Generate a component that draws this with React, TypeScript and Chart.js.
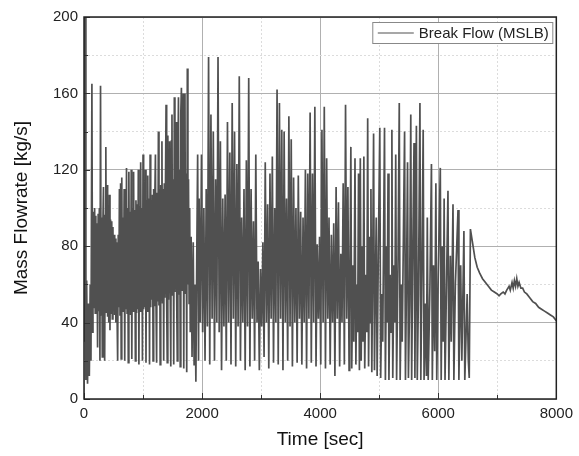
import React, { useEffect, useRef } from 'react';
import { Chart, registerables } from 'chart.js';

Chart.register(...registerables);

// ---------------- DATA ----------------
const seriesLabel = 'Break Flow (MSLB)';
const xTitle = 'Time [sec]';
const yTitle = 'Mass Flowrate [kg/s]';

const xMin = 0;
const xMax = 8000;
const xMajorStep = 2000;
const xMinorStep = 1000;
const yMin = 0;
const yMax = 200;
const yMajorStep = 40;
const yMinorStep = 20;

// start of the transient: [time, flow]
const initialSegment: [number, number][] = [
  [0, 62], [6, 200], [14, 30], [22, 200], [32, 10], [45, 62], [60, 8], [75, 50],
  [90, 12], [105, 60], [118, 20], [134, 165], [145, 35], [152, 95],
];

// dense oscillation band, sampled every 10 s from 160 s
const denseStart = 160;
const denseStep = 10;
const denseValues: number[] = [
  98, 48, 100, 45, 96, 50, 92, 27, 97, 46,
  100, 20, 164, 44, 95, 22, 92, 111, 47, 20,
  96, 132, 45, 112, 43, 97, 40, 107, 36, 94,
  45, 93, 42, 90, 46, 86, 44, 84, 40, 82,
  45, 20, 86, 48, 110, 44, 113, 21, 116, 46,
  95, 48, 110, 20, 98, 47, 121, 45, 100, 19,
  119, 48, 98, 44, 120, 21, 100, 46, 119, 49,
  99, 20, 104, 45, 102, 47, 120, 18, 101, 46,
  124, 50, 100, 20, 128, 47, 103, 48, 120, 19,
  104, 46, 117, 50, 105, 18, 128, 48, 104, 52,
  107, 20, 110, 49, 106, 128, 50, 19, 108, 51,
  140, 49, 110, 18, 112, 52, 135, 50, 110, 20,
  113, 53, 111, 154, 51, 19, 138, 52, 114, 135,
  55, 17, 135, 149, 54, 115, 18, 158, 56, 118,
  145, 53, 20, 116, 158, 55, 120, 17, 150, 163,
  57, 119, 160, 16, 121, 160, 55, 118, 14, 173,
  60, 115, 50,
];

// short drop around 1800-1950 s
const transitionSegment: [number, number][] = [
  [1790, 100], [1800, 35], [1815, 85], [1830, 22], [1850, 82], [1865, 18],
  [1880, 60], [1895, 9], [1910, 75], [1925, 128], [1940, 20],
];

// large-amplitude oscillation, sampled every 20 s from 1950 s
const midStart = 1950;
const midStep = 20;
const midValues: number[] = [
  105, 40, 128, 35, 100, 20, 110, 38, 179, 18,
  149, 42, 140, 20, 115, 40, 179, 35, 135, 15,
  105, 38, 107, 20, 145, 40, 129, 18, 155, 42,
  140, 17, 123, 38, 169, 20, 95, 40, 110, 15,
  125, 38, 168, 17, 110, 42, 93, 20, 128, 40,
  72, 15, 68, 38, 82, 22, 124, 40, 102, 16,
  118, 42, 127, 19, 100, 40, 162, 18, 155, 42,
  141, 15, 140, 40, 105, 20, 148, 38, 136, 17,
  116, 40, 100, 19, 117, 42, 98, 18, 95, 40,
  120, 16, 118, 42, 150, 19, 118, 40, 153, 17,
  81, 42, 85, 18, 141, 40, 153, 16, 126, 42,
  95, 18, 86, 40, 92, 12, 111, 42, 103, 17,
  76, 40, 113, 18, 154, 42, 111, 15,
];

// distinct spikes 4500-6550 s
const lateSegment: [number, number][] = [
  [4500, 40], [4520, 132], [4535, 16], [4555, 70], [4570, 30], [4590, 126], [4605, 18],
  [4620, 60], [4635, 35], [4650, 118], [4665, 15], [4680, 126], [4695, 20], [4710, 80],
  [4725, 30], [4740, 127], [4755, 16], [4775, 65], [4790, 35], [4805, 147], [4820, 17],
  [4840, 85], [4850, 40], [4860, 110], [4875, 14], [4890, 70], [4905, 139], [4920, 15],
  [4935, 60], [4950, 95], [4965, 12], [4985, 75], [5010, 142], [5025, 11], [5045, 55],
  [5060, 30], [5090, 142], [5105, 10], [5125, 80], [5135, 40], [5150, 118], [5165, 10],
  [5185, 65], [5200, 35], [5215, 141], [5230, 11], [5250, 70], [5265, 40], [5280, 128],
  [5295, 10], [5320, 75], [5340, 155], [5355, 10], [5375, 60], [5390, 30], [5410, 85],
  [5430, 140], [5445, 10], [5465, 70], [5480, 124], [5495, 11], [5515, 50], [5535, 149],
  [5550, 10], [5570, 80], [5590, 134], [5605, 11], [5630, 143], [5645, 10], [5665, 55],
  [5690, 155], [5705, 10], [5725, 70], [5745, 141], [5760, 10], [5780, 50], [5800, 12],
  [5815, 95], [5830, 10], [5860, 60], [5885, 123], [5900, 10], [5920, 70], [5940, 25],
  [5960, 113], [5975, 10], [6000, 65], [6035, 121], [6050, 10], [6070, 80], [6085, 30],
  [6100, 105], [6115, 10], [6140, 60], [6165, 109], [6180, 10], [6205, 75], [6220, 30],
  [6250, 102], [6265, 10], [6290, 60], [6335, 99], [6350, 10], [6380, 70], [6400, 20],
  [6435, 88], [6450, 10], [6490, 55], [6510, 20], [6525, 11], [6545, 89],
];

// smooth decay after 6550 s
const tailSegment: [number, number][] = [
  [6580, 82], [6620, 74], [6660, 69], [6700, 66], [6750, 63], [6800, 61], [6850, 59],
  [6900, 57], [6950, 56], [7000, 55], [7030, 54], [7060, 55], [7100, 56], [7130, 55],
  [7160, 57], [7200, 59], [7220, 57], [7250, 61], [7270, 58], [7290, 62], [7310, 59],
  [7330, 63], [7350, 59], [7370, 61], [7400, 58], [7430, 58], [7460, 56], [7500, 55],
  [7550, 53], [7600, 51], [7650, 50], [7700, 48], [7750, 47], [7800, 46], [7850, 45],
  [7900, 44], [7950, 43], [8000, 41],
];

// ---------------- build the series ----------------
const pairsToPoints = (arr: [number, number][]) => arr.map(([x, y]) => ({ x, y }));
const sampledToPoints = (start: number, step: number, vals: number[]) =>
  vals.map((y, i) => ({ x: start + i * step, y }));

const points = [
  ...pairsToPoints(initialSegment),
  ...sampledToPoints(denseStart, denseStep, denseValues),
  ...pairsToPoints(transitionSegment),
  ...sampledToPoints(midStart, midStep, midValues),
  ...pairsToPoints(lateSegment),
  ...pairsToPoints(tailSegment),
];

const FONT = "'Liberation Sans', Arial, sans-serif";
const LINE_COLOR = '#505050';

const decorPlugin = {
  id: 'decor',
  afterDatasetsDraw(chart: any) {
    const { ctx, chartArea: a, scales } = chart;
    const xs = scales.x;
    const ys = scales.y;
    ctx.save();
    // inward tick marks
    ctx.strokeStyle = '#333';
    ctx.lineWidth = 1;
    xs.ticks.forEach((t: any) => {
      const px = Math.round(xs.getPixelForValue(t.value)) + 0.5;
      const len = t.value % xMajorStep === 0 ? 6 : 4;
      ctx.beginPath();
      ctx.moveTo(px, a.bottom);
      ctx.lineTo(px, a.bottom - len);
      ctx.stroke();
    });
    ys.ticks.forEach((t: any) => {
      const py = Math.round(ys.getPixelForValue(t.value)) + 0.5;
      const len = t.value % yMajorStep === 0 ? 6 : 4;
      ctx.beginPath();
      ctx.moveTo(a.left, py);
      ctx.lineTo(a.left + len, py);
      ctx.stroke();
    });
    // frame
    ctx.strokeStyle = '#222';
    ctx.lineWidth = 1.5;
    ctx.strokeRect(a.left, a.top, a.right - a.left, a.bottom - a.top);
    // legend
    const ds = chart.data.datasets[0];
    ctx.font = `15px ${FONT}`;
    const tw = ctx.measureText(ds.label).width;
    const boxRight = a.right - 3.5;
    const boxTop = a.top + 5.5;
    const boxH = 21;
    const boxW = tw + 50;
    const boxLeft = boxRight - boxW;
    ctx.fillStyle = '#fff';
    ctx.fillRect(boxLeft, boxTop, boxW, boxH);
    ctx.strokeStyle = '#888';
    ctx.lineWidth = 1;
    ctx.strokeRect(boxLeft, boxTop, boxW, boxH);
    const ly = boxTop + boxH / 2;
    ctx.strokeStyle = ds.borderColor;
    ctx.lineWidth = 1.2;
    ctx.beginPath();
    ctx.moveTo(boxLeft + 5, ly);
    ctx.lineTo(boxLeft + 41, ly);
    ctx.stroke();
    ctx.fillStyle = '#222';
    ctx.textBaseline = 'middle';
    ctx.textAlign = 'left';
    ctx.fillText(ds.label, boxLeft + 46, ly + 0.5);
    ctx.restore();
  },
};

export default function App() {
  const canvasRef = useRef<HTMLCanvasElement | null>(null);

  useEffect(() => {
    const canvas = canvasRef.current;
    if (!canvas) return;
    const chart = new Chart(canvas, {
      type: 'line',
      data: {
        datasets: [
          {
            label: seriesLabel,
            data: points,
            borderColor: LINE_COLOR,
            borderWidth: 1.7,
            borderJoinStyle: 'miter',
            pointRadius: 0,
            fill: false,
            tension: 0,
          },
        ],
      },
      options: {
        animation: false,
        responsive: false,
        devicePixelRatio: 1,
        layout: { padding: { top: 17, right: 19, left: 0, bottom: 0 } },
        plugins: { legend: { display: false }, tooltip: { enabled: false } },
        scales: {
          x: {
            type: 'linear',
            min: xMin,
            max: xMax,
            afterFit: (s: any) => {
              s.height = 57;
            },
            ticks: {
              stepSize: xMinorStep,
              autoSkip: false,
              maxRotation: 0,
              padding: 6,
              color: '#222',
              font: { family: FONT, size: 15 },
              callback: (v: any) => (Number(v) % xMajorStep === 0 ? String(v) : ''),
            },
            grid: {
              drawTicks: false,
              lineWidth: 1,
              color: (c: any) => (c.tick && c.tick.value % xMajorStep === 0 ? '#b0b0b0' : '#dcdcdc'),
            },
            border: {
              display: false,
              dash: (c: any) => (c.tick && c.tick.value % xMajorStep === 0 ? [] : [2, 2]),
            },
            title: {
              display: true,
              text: xTitle,
              color: '#111',
              font: { family: FONT, size: 19 },
              padding: { top: 0, bottom: 5 },
            },
          },
          y: {
            type: 'linear',
            min: yMin,
            max: yMax,
            afterFit: (s: any) => {
              s.width = 84;
            },
            ticks: {
              stepSize: yMinorStep,
              autoSkip: false,
              padding: 6,
              color: '#222',
              font: { family: FONT, size: 15 },
              callback: (v: any) => (Number(v) % yMajorStep === 0 ? String(v) : ''),
            },
            grid: {
              drawTicks: false,
              lineWidth: 1,
              color: (c: any) => (c.tick && c.tick.value % yMajorStep === 0 ? '#b0b0b0' : '#dcdcdc'),
            },
            border: {
              display: false,
              dash: (c: any) => (c.tick && c.tick.value % yMajorStep === 0 ? [] : [2, 2]),
            },
            title: {
              display: true,
              text: yTitle,
              color: '#111',
              font: { family: FONT, size: 19 },
              padding: { top: 10, bottom: 0 },
            },
          },
        },
      },
      plugins: [decorPlugin],
    } as any);
    return () => chart.destroy();
  }, []);

  return (
    <div style={{ position: 'absolute', left: 0, top: 0, width: 579, height: 456, background: '#fff' }}>
      <canvas ref={canvasRef} width={579} height={456} style={{ display: 'block' }} />
    </div>
  );
}
